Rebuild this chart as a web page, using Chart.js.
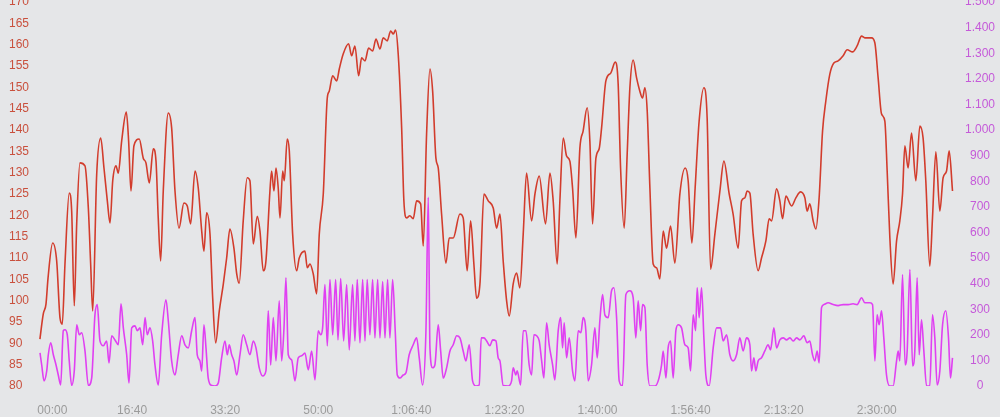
<!DOCTYPE html>
<html>
<head>
<meta charset="utf-8">
<script src="https://cdn.jsdelivr.net/npm/chart.js@4.4.1/dist/chart.umd.min.js"></script>
<style>
  html, body { margin:0; padding:0; background:#e5e6e8; }
  #wrap { position:relative; width:1000px; height:417px; }
</style>
</head>
<body>
<div id="wrap"><canvas id="chart"></canvas></div>
<script>
// heart rate (bpm) against elapsed seconds
const hrTime = [
  10,46,75,97,147,190,226,250,279,325, 351,379,405,440,494,530,555,577,620,663,
  698,734,763,792,827,852,888,938,963,988, 1020,1077,1120,1149,1185,1228,1257,1281,1307,1335,
  1389,1425,1461,1504,1557,1593,1629,1676,1711,1748, 1772,1801,1837,1866,1898,1937,1980,2016,2051,2094,
  2124,2151,2194,2237,2266,2302,2345,2374,2409,2438, 2481,2499,2524,2546,2570,2589,2618,2635,2667,2689,
  2725,2768,2796,2857,2882,2911,2946,2983,3011,3054, 3097,3118,3155,3198,3226,3268,3326,3359,3394,3434,
  3466,3502,3541,3584,3620,3663,3698,3741,3778,3806, 3831,3859,3896,3920,3949,3984,4020,4057,4100,4128,
  4164,4200,4229,4264,4289,4325,4372,4407,4450,4522, 4557,4600,4637,4672,4701,4737,4780,4826,4880,4916,
  4952,4987,5024,5052,5094,5131,5166,5202,5238,5292, 5328,5374,5442,5489,5524,5567,5596,5632,5668,5703,
  5732,5768,5811,5846,5889,5918,5947,5983,6018,6044, 6090,6144,6190,6222,6248,6287,6319,6348,6383,6420,
  6455,6484,6509,6534,6563,6598,6635,6670,6706,6742, 6785,6831,6885,6942,6974,7014,7049,7092,7143,7178,
  7215,7261,7315,7358,7415,7457,7511,7548,7583,7608, 7637,7672,7726,7762,7809,7844,7870,7924,7959,7988,
  8024,8085,8131,8181,8228,8252,8281,8317,8346,8381, 8418,8453,8496,8539,8585,8639,8682,8740,8789,8837,
  8872,8944,8980,9015,9051,9087,9112,9141,9176,9213, 9248,9277,9302,9337,9374,9420,9463,9498,9527,9570,
  9599,9635,9678,9713,9750,9778,9814
];
const hrBpm = [
  91.0,96.9,99.2,105.3,113.5,109.3,95.9,94.5,108.6,125.2, 121.0,98.8,118.0,132.3,131.6,121.7,108.6,97.6,129.7,138.1,
  131.1,123.4,118.2,128.1,131.6,129.9,137.4,144.2,137.4,125.7, 136.3,137.9,133.4,132.3,127.6,135.6,132.7,119.4,109.3,125.7,
  144.0,140.5,125.7,117.0,122.9,122.2,118.0,130.4,126.4,116.3, 111.6,120.6,115.6,100.6,90.1,97.6,103.9,110.0,116.8,112.3,
  106.3,104.1,118.7,128.8,128.1,113.3,119.8,116.3,107.0,109.3, 125.7,130.4,125.7,131.1,126.4,119.4,130.4,128.1,137.9,135.1,
  115.6,107.0,110.0,111.6,107.7,108.6,106.3,101.6,115.6,125.0, 147.5,149.1,152.7,151.5,154.3,157.8,160.2,157.4,159.7,152.7,
  156.9,156.2,159.2,158.5,161.3,159.0,161.6,160.9,163.2,162.5, 163.4,157.8,140.5,123.4,119.4,119.9,119.2,123.4,122.7,112.8,
  139.1,154.3,149.1,133.4,131.1,120.3,108.8,114.7,114.7,120.3, 119.4,107.0,118.7,108.6,100.6,103.9,125.0,123.4,121.7,117.0,
  120.3,109.3,99.9,96.4,103.9,106.5,103.0,115.6,129.9,118.7, 125.0,129.2,118.0,129.9,123.4,108.6,123.4,138.1,133.9,132.7,
  126.4,114.7,135.8,139.8,145.2,137.4,118.0,133.4,135.6,140.5, 151.5,153.4,155.9,150.8,131.1,117.0,134.4,149.9,156.4,152.2,
  149.1,147.5,149.9,144.5,126.4,108.6,107.7,105.1,116.3,112.3, 117.5,108.8,125.0,131.1,128.1,113.5,126.4,142.1,149.9,142.8,
  107.4,115.6,125.7,132.7,125.0,120.3,112.3,123.4,124.1,125.7, 125.2,115.6,107.0,110.0,114.0,119.2,118.7,126.2,123.4,119.2,
  124.5,122.2,124.1,125.5,124.1,121.0,122.7,118.7,116.8,124.1, 139.8,146.8,153.1,155.7,156.2,157.4,158.8,158.3,159.7,162.0,
  161.6,161.6,160.4,152.2,143.8,142.1,130.4,114.7,103.9,114.0, 118.7,125.0,136.3,131.1,139.3,128.1,140.9,138.1,128.1,108.1,
  119.4,134.9,121.0,128.8,130.4,135.1,125.7
];

// power (W) against elapsed seconds
const powerTime = [
  11,29,54,83,100,126,154,183,207,233, 261,279,304,325,351,379,405,433,459,494,
  530,566,601,626,655,691,727,752,781,816, 852,881,906,942,967,996,1031,1056,1085,1114,
  1139,1163,1192,1221,1246,1281,1318,1364,1389,1425, 1461,1496,1533,1568,1604,1640,1676,1700,1729,1748,
  1772,1794,1818,1855,1890,1926,1962,1998,2023,2044, 2070,2094,2124,2159,2194,2231,2266,2302,2331,2366,
  2403,2438,2463,2489,2517,2546,2581,2607,2632,2653, 2678,2714,2750,2785,2822,2857,2893,2929,2965,3000,
  3026,3047,3072,3097,3126,3155,3187,3212,3241,3273, 3305,3333,3369,3394,3419,3448,3477,3502,3526,3555,
  3584,3609,3638,3663,3692,3717,3745,3770,3799,3827, 3849,3878,3913,3942,3977,4020,4057,4085,4121,4157,
  4182,4200,4229,4253,4289,4315,4343,4379,4415,4450, 4487,4522,4557,4586,4622,4658,4694,4729,4751,4780,
  4809,4844,4873,4909,4933,4952,4987,5041,5077,5094, 5123,5137,5174,5202,5231,5266,5292,5317,5346,5374,
  5400,5424,5453,5481,5518,5542,5578,5604,5625,5642, 5668,5696,5732,5757,5793,5822,5846,5875,5900,5936,
  5972,5997,6026,6055,6079,6115,6151,6176,6205,6233, 6269,6305,6348,6383,6412,6437,6463,6484,6509,6534,
  6563,6617,6652,6688,6706,6735,6759,6785,6813,6842, 6867,6903,6939,6974,7000,7028,7054,7071,7092,7118,
  7143,7164,7200,7243,7279,7322,7350,7387,7422,7457, 7494,7529,7565,7601,7637,7655,7680,7701,7726,7762,
  7798,7833,7859,7895,7924,7959,7995,8031,8067,8102, 8139,8174,8217,8252,8281,8310,8335,8360,8381,8407,
  8432,8478,8532,8585,8639,8693,8746,8789,8837,8872, 8926,8955,8980,9004,9026,9051,9076,9105,9141,9176,
  9213,9230,9248,9277,9305,9327,9356,9385,9409,9434, 9456,9481,9506,9535,9570,9599,9624,9649,9678,9707,
  9742,9771,9792,9814
];
const powerWatts = [
  129,82,20,59,122,169,122,82,43,4, 216,220,200,98,2,59,239,200,208,137,
  2,31,278,318,176,157,176,90,196,180, 161,321,227,122,12,227,235,216,227,161,
  267,200,227,176,82,4,200,337,255,98, 43,122,196,161,149,216,267,122,98,59,
  239,149,31,2,0,12,110,176,122,161, 122,98,43,122,200,161,122,176,149,71,
  39,59,294,82,267,98,333,98,227,423, 122,102,20,110,118,129,63,137,24,216,
  200,227,396,157,416,200,416,180,420,176, 396,141,396,176,416,169,416,176,416,200,
  416,188,416,188,408,188,416,188,416,216, 43,31,43,51,122,161,188,110,4,216,
  737,149,71,82,239,137,31,71,137,161, 196,188,137,98,161,20,0,4,188,188,
  176,157,180,176,110,98,2,0,20,71, 43,59,4,216,216,82,43,200,196,176,
  98,31,247,161,82,24,216,267,149,247, 110,188,59,20,216,208,267,216,20,82,
  227,110,259,357,278,267,372,384,267,20, 0,357,372,345,188,333,216,318,306,82,
  0,0,20,82,137,31,149,176,31,216, 239,227,161,149,59,278,216,384,267,384,
  188,43,0,149,227,227,176,200,122,98, 122,188,137,188,161,59,110,59,98,110,
  137,161,141,227,149,180,188,180,188,176, 188,180,196,169,176,122,98,137,90,306,
  318,325,318,314,318,318,321,318,345,325, 325,318,98,278,239,294,188,43,0,0,
  98,137,98,435,82,137,455,78,137,423, 122,259,137,0,0,278,188,4,59,239,
  294,188,31,110
];

// time labels, in seconds
const xTickSeconds = [0, 1000, 2000, 3000, 4000, 5000, 6000, 7000, 8000, 9000];

function fmtTime(v) {
  const h = Math.floor(v / 3600);
  const m = Math.floor((v % 3600) / 60);
  const s = v % 60;
  const two = n => String(n).padStart(2, '0');
  if (v === 0) return '        00:00'; // first label sits right of the axis start
  return h > 0 ? h + ':' + two(m) + ':' + two(s) : two(m) + ':' + two(s);
}
function fmtThousands(v) {
  return v >= 1000 ? Math.floor(v / 1000) + '.' + String(v % 1000).padStart(3, '0') : String(v);
}

Chart.defaults.font.family = '"Liberation Sans", Arial, sans-serif';
Chart.defaults.font.size = 12;

new Chart(document.getElementById('chart').getContext('2d'), {
  type: 'line',
  data: {
    datasets: [
      {
        label: 'Heart rate',
        data: hrTime.map((t, i) => ({ x: t, y: hrBpm[i] })),
        yAxisID: 'yHr',
        borderColor: '#d23c2c',
        borderWidth: 1.6,
        pointRadius: 0,
        cubicInterpolationMode: 'monotone'
      },
      {
        label: 'Power',
        data: powerTime.map((t, i) => ({ x: t, y: powerWatts[i] })),
        yAxisID: 'yPw',
        borderColor: '#e040f2',
        borderWidth: 1.6,
        pointRadius: 0,
        cubicInterpolationMode: 'monotone'
      }
    ]
  },
  options: {
    responsive: true,
    maintainAspectRatio: false,
    animation: false,
    layout: { padding: { left: 9, right: 5, top: 0, bottom: 0 } },
    plugins: { legend: { display: false }, tooltip: { enabled: false } },
    scales: {
      x: {
        type: 'linear',
        min: 0,
        max: 9830,
        grid: { display: false, drawTicks: false },
        border: { display: false },
        afterBuildTicks: s => { s.ticks = xTickSeconds.map(v => ({ value: v })); },
        afterFit: s => { s.height = 31; s.paddingLeft = 0; s.paddingRight = 0; },
        ticks: {
          autoSkip: false,
          maxRotation: 0,
          padding: 17,
          color: '#9b9b9b',
          callback: v => fmtTime(v)
        }
      },
      yHr: {
        position: 'left',
        min: 80,
        max: 170,
        grid: { display: false, drawTicks: false },
        border: { display: false },
        ticks: { stepSize: 5, crossAlign: 'far', padding: 10, color: '#c9503d' },
        afterFit: s => { s.width = 30; s.paddingTop = 2; s.paddingBottom = 0; }
      },
      yPw: {
        position: 'right',
        min: 0,
        max: 1500,
        grid: { display: false, drawTicks: false },
        border: { display: false },
        ticks: { stepSize: 100, crossAlign: 'center', padding: 11, color: '#c55ad9', callback: v => fmtThousands(v) },
        afterFit: s => { s.width = 41; s.paddingTop = 2; s.paddingBottom = 0; }
      }
    }
  }
});
</script>
</body>
</html>
